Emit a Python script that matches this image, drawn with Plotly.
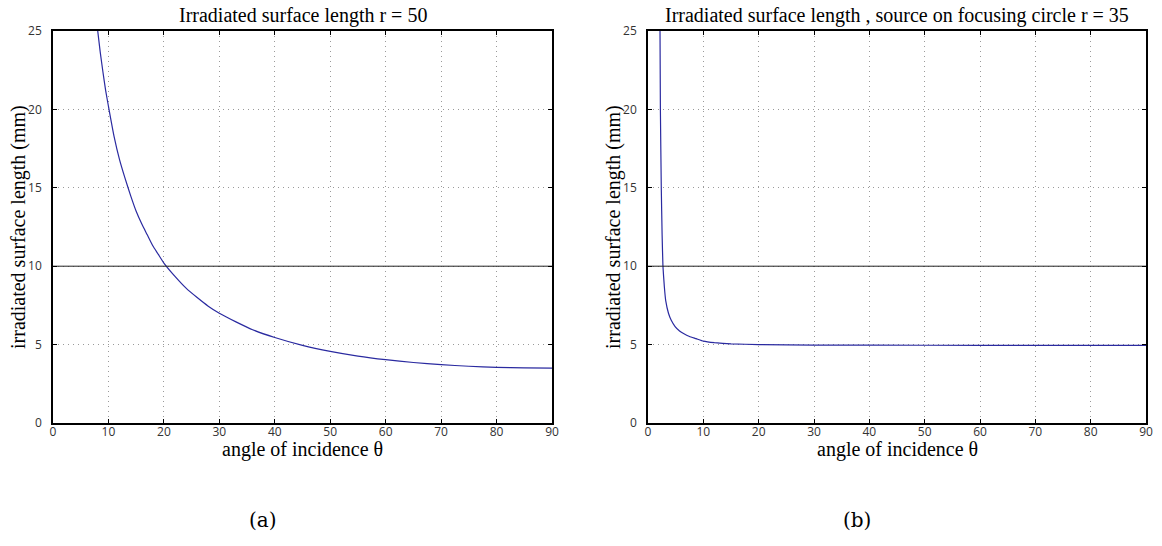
import plotly.graph_objects as go

# Left panel: r = 50
theta_a = [8.0, 8.5, 9, 9.5, 10, 11, 12, 13, 14, 15, 16, 17, 18, 19, 20, 22, 24, 26, 28, 30, 33, 36,
           40, 45, 50, 55, 60, 65, 70, 75, 80, 85, 90]
length_a = [25.2, 23.7, 22.4, 21.2, 20.2, 18.3, 16.8, 15.6, 14.5, 13.5, 12.7, 12.0, 11.3, 10.75, 10.2,
            9.35, 8.6, 8.0, 7.45, 7.0, 6.45, 5.95, 5.45, 4.95, 4.57, 4.27, 4.04, 3.86, 3.72, 3.62,
            3.55, 3.51, 3.5]

# Right panel: source on focusing circle, r = 35
theta_b = [2.17, 2.24, 2.4, 2.55, 2.7, 2.95, 3.2, 3.7, 4.2, 4.9, 5.7, 6.5, 7.5, 8.7, 10, 12, 15, 20,
           30, 50, 70, 90]
length_b = [25, 20, 15, 12, 10, 8.7, 7.8, 7.0, 6.55, 6.15, 5.87, 5.69, 5.52, 5.38, 5.22, 5.12, 5.05,
            5.0, 4.97, 4.96, 4.95, 4.95]

ref_x = [0, 90]
ref_level = [10, 10]

x_ticks = [0, 10, 20, 30, 40, 50, 60, 70, 80, 90]
y_ticks = [0, 5, 10, 15, 20, 25]

titles = ["Irradiated surface length r = 50",
          "Irradiated surface length , source on focusing circle r = 35"]
x_title = "angle of incidence θ"
y_title = "irradiated surface length (mm)"
captions = ["(a)", "(b)"]

W, H = 1162, 546


def px(x):
    return x / W


def py(y):
    return 1 - y / H


dom_x = [[px(53), px(552)], [px(648), px(1146)]]
dom_y = [py(423), py(31)]

serif = "Liberation Serif, Times New Roman, serif"
sans = "Open Sans, DejaVu Sans, sans-serif"

fig = go.Figure()
line_color = "#2a2aa0"
fig.add_trace(go.Scatter(x=theta_a, y=length_a, mode="lines",
                         line=dict(color=line_color, width=1.2, shape="spline", smoothing=0.5),
                         xaxis="x", yaxis="y", showlegend=False, hoverinfo="skip"))
fig.add_trace(go.Scatter(x=ref_x, y=ref_level, mode="lines", line=dict(color="#222", width=1),
                         xaxis="x", yaxis="y", showlegend=False, hoverinfo="skip"))
fig.add_trace(go.Scatter(x=theta_b, y=length_b, mode="lines",
                         line=dict(color=line_color, width=1.2, shape="spline", smoothing=0.3),
                         xaxis="x2", yaxis="y2", showlegend=False, hoverinfo="skip"))
fig.add_trace(go.Scatter(x=ref_x, y=ref_level, mode="lines", line=dict(color="#222", width=1),
                         xaxis="x2", yaxis="y2", showlegend=False, hoverinfo="skip"))

axis_common = dict(showline=True, linecolor="black", linewidth=1.5, mirror="ticks", ticks="inside",
                   ticklen=4, tickcolor="black", showgrid=True, gridcolor="#9a9a9a", griddash="1px,4px",
                   gridwidth=1, zeroline=False, automargin=False,
                   tickfont=dict(family=sans, size=12, color="#333"))

layout = dict(width=W, height=H, margin=dict(l=0, r=0, t=0, b=0, autoexpand=False), paper_bgcolor="white",
              plot_bgcolor="white", showlegend=False)
for i, suffix in enumerate(["", "2"]):
    layout["xaxis" + suffix] = dict(axis_common, domain=dom_x[i], range=[0, 90], tickvals=x_ticks,
                                    anchor="y" + suffix, ticklabelstandoff=-3)
    layout["yaxis" + suffix] = dict(axis_common, domain=dom_y, range=[0, 25], tickvals=y_ticks,
                                    anchor="x" + suffix, ticklabelstandoff=7)
fig.update_layout(**layout)

ann = []
centers = [(dom_x[0][0] + dom_x[0][1]) / 2, (dom_x[1][0] + dom_x[1][1]) / 2]
for i in range(2):
    ann.append(dict(text=titles[i], x=centers[i], y=py(15), xref="paper", yref="paper",
                    showarrow=False, font=dict(family=serif, size=20, color="black"),
                    xanchor="center", yanchor="middle"))
    ann.append(dict(text=x_title, x=centers[i], y=py(449), xref="paper", yref="paper",
                    showarrow=False, font=dict(family=serif, size=20, color="black"),
                    xanchor="center", yanchor="middle"))
    ann.append(dict(text=y_title, x=dom_x[i][0] - 35 / W, y=(dom_y[0] + dom_y[1]) / 2,
                    xref="paper", yref="paper", textangle=-90, showarrow=False,
                    font=dict(family=serif, size=20, color="black"), xanchor="center", yanchor="middle"))
cap_x = [px(263), px(857)]
for i in range(2):
    ann.append(dict(text=captions[i], x=cap_x[i], y=py(520), xref="paper", yref="paper",
                    showarrow=False, font=dict(family="DejaVu Serif, serif", size=20, color="black"),
                    xanchor="center", yanchor="middle"))
fig.update_layout(annotations=ann)

# remove the default page margin so the figure fills the window exactly
fig.write_html("out.html", config={"displayModeBar": False},
               post_script="document.body.style.margin='0';")
